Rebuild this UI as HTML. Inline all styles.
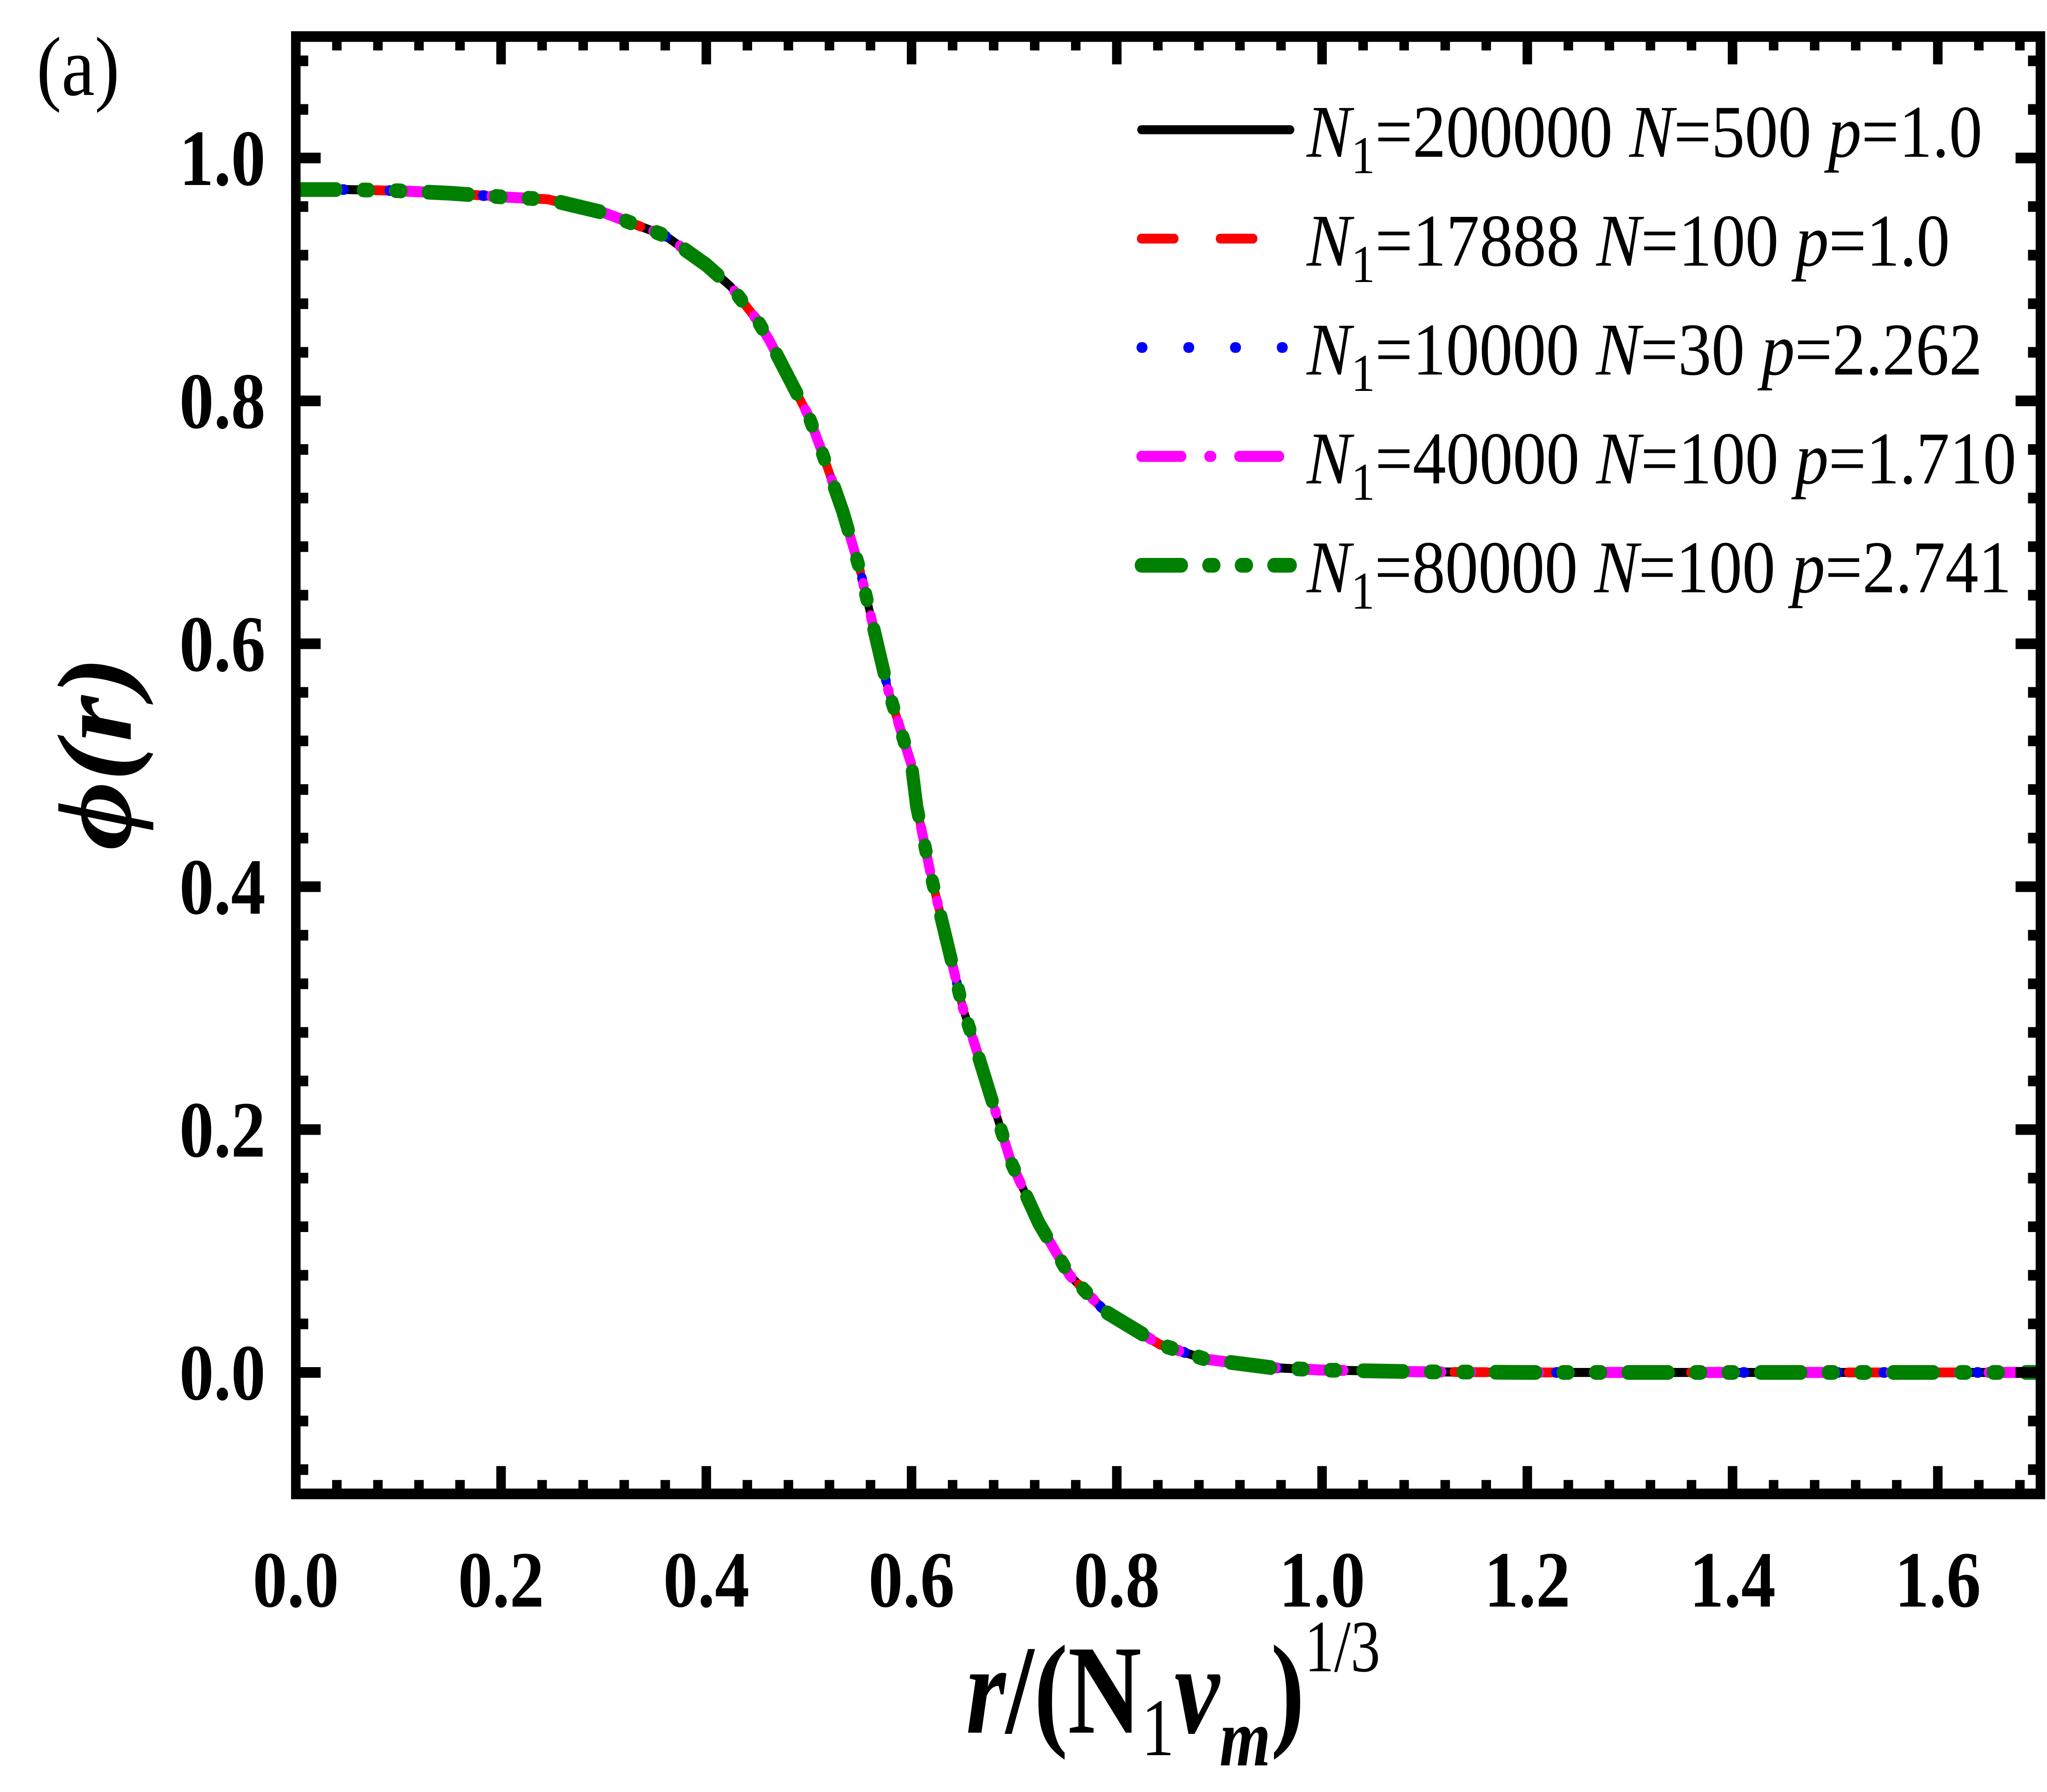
<!DOCTYPE html>
<html><head><meta charset="utf-8"><style>
html,body{margin:0;padding:0;background:#fff;width:100%;height:100%;overflow:hidden;}
svg{display:block;width:100vw;height:100vh;}
text{font-family:"Liberation Serif","Times New Roman",serif;}
</style></head>
<body>
<svg id="chart" xmlns="http://www.w3.org/2000/svg" viewBox="0 0 5605 4378" preserveAspectRatio="none">
<rect x="0" y="0" width="5605" height="4378" fill="#fff"/>
<g id="plot"></g>
<g id="axes"></g>
<text x="100" y="232" font-size="205">(a)</text>
<text transform="translate(358,1840) rotate(-90)" text-anchor="middle" font-size="290" font-weight="bold" font-style="italic">ϕ(r)</text>
<g transform="translate(2645,4233) scale(0.9,1)">
<text x="0" y="0" font-size="310" font-weight="bold"><tspan font-style="italic">r</tspan>/(N<tspan font-size="200" font-weight="normal" dy="55">1</tspan><tspan font-style="italic" dy="-55">v</tspan><tspan font-style="italic" font-size="200" dy="80">m</tspan><tspan dy="-80">)</tspan><tspan font-size="180" font-weight="normal" dy="-150">1/3</tspan></text>
</g>
<g id="legend"></g>
</svg>
<script>
// ---- data ----
const xValues = [0.0, 0.05, 0.1, 0.15, 0.2, 0.2456, 0.3, 0.36, 0.4, 0.424, 0.45, 0.462, 0.5, 0.511, 0.533, 0.55, 0.577, 0.6, 0.605, 0.619, 0.65, 0.662, 0.697, 0.724, 0.754, 0.789, 0.842, 0.886, 0.95, 1.0, 1.1, 1.2, 1.4, 1.7];
const ySeries1 = [0.974, 0.974, 0.973, 0.971, 0.968, 0.966, 0.955, 0.936, 0.912, 0.894, 0.866, 0.849, 0.787, 0.762, 0.709, 0.660, 0.5625, 0.500, 0.466, 0.409, 0.300, 0.269, 0.173, 0.123, 0.080, 0.050, 0.023, 0.011, 0.004, 0.002, 0.0005, 0.0, 0.0, 0.0];
const ySeries2 = [0.974, 0.974, 0.973, 0.971, 0.968, 0.966, 0.955, 0.936, 0.912, 0.894, 0.866, 0.849, 0.787, 0.762, 0.709, 0.660, 0.5625, 0.500, 0.466, 0.409, 0.300, 0.269, 0.173, 0.123, 0.080, 0.050, 0.023, 0.011, 0.004, 0.002, 0.0005, 0.0, 0.0, 0.0];
const ySeries3 = [0.974, 0.974, 0.973, 0.971, 0.968, 0.966, 0.955, 0.936, 0.912, 0.894, 0.866, 0.849, 0.787, 0.762, 0.709, 0.660, 0.5625, 0.500, 0.466, 0.409, 0.300, 0.269, 0.173, 0.123, 0.080, 0.050, 0.023, 0.011, 0.004, 0.002, 0.0005, 0.0, 0.0, 0.0];
const ySeries4 = [0.974, 0.974, 0.973, 0.971, 0.968, 0.966, 0.955, 0.936, 0.912, 0.894, 0.866, 0.849, 0.787, 0.762, 0.709, 0.660, 0.5625, 0.500, 0.466, 0.409, 0.300, 0.269, 0.173, 0.123, 0.080, 0.050, 0.023, 0.011, 0.004, 0.002, 0.0005, 0.0, 0.0, 0.0];
const ySeries5 = [0.974, 0.974, 0.973, 0.971, 0.968, 0.966, 0.955, 0.936, 0.912, 0.894, 0.866, 0.849, 0.787, 0.762, 0.709, 0.660, 0.5625, 0.500, 0.466, 0.409, 0.300, 0.269, 0.173, 0.123, 0.080, 0.050, 0.023, 0.011, 0.004, 0.002, 0.0005, 0.0, 0.0, 0.0];
const xTickLabels = ["0.0","0.2","0.4","0.6","0.8","1.0","1.2","1.4","1.6"];
const yTickLabels = ["0.0","0.2","0.4","0.6","0.8","1.0"];
const legendLabels = [
  ["200000","500","1.0"],
  ["17888","100","1.0"],
  ["10000","30","2.262"],
  ["40000","100","1.710"],
  ["80000","100","2.741"]
];
const legendWidths = [1850, 1761, 1850, 1943, 1930];

// ---- scales ----
const X0 = 810, XS = 2810, Y0 = 3353, YS = 2967;
const xMin = 0, xMax = 1.7, yMin = -0.1, yMax = 1.1;
function sx(v){ return X0 + v*XS; }
function sy(v){ return Y0 - v*YS; }
const NS = "http://www.w3.org/2000/svg";
function mk(tag, attrs, parent){
  const e = document.createElementNS(NS, tag);
  for (const k in attrs) e.setAttribute(k, attrs[k]);
  parent.appendChild(e);
  return e;
}
const plot = document.getElementById('plot');
const axes = document.getElementById('axes');
const legend = document.getElementById('legend');

const styles = [
  {color:"#000000", w:22, dash:"", cap:"round", name:"series-n1-200000"},
  {color:"#ff0000", w:24, dash:"90 126", cap:"round", name:"series-n1-17888"},
  {color:"#0000ff", w:26, dash:"4 124", cap:"round", name:"series-n1-10000"},
  {color:"#ff00ff", w:27, dash:"110 76 6 76", cap:"round", name:"series-n1-40000"},
  {color:"#008000", w:36, dash:"110 75 14 75 14 75", cap:"round", name:"series-n1-80000"}
];
const allY = [ySeries1, ySeries2, ySeries3, ySeries4, ySeries5];

const defs = mk('defs', {}, plot);
const cp = mk('clipPath', {id:'clip'}, defs);
mk('rect', {x:sx(xMin), y:sy(yMax), width:sx(xMax)-sx(xMin), height:sy(yMin)-sy(yMax)}, cp);

allY.forEach((ys, i) => {
  const st = styles[i];
  let d = "";
  xValues.forEach((x, j) => { d += (j ? "L" : "M") + sx(x).toFixed(1) + "," + sy(ys[j]).toFixed(1); });
  const p = mk('path', {d:d, fill:"none", stroke:st.color, "stroke-width":st.w, "stroke-linecap":st.cap, "stroke-linejoin":"round", "clip-path":"url(#clip)"}, plot);
  if (st.dash) p.setAttribute('stroke-dasharray', st.dash);
  
  
});

const fr = mk('rect', {x:sx(xMin), y:sy(yMax), width:sx(xMax)-sx(xMin), height:sy(yMin)-sy(yMax), fill:"none", stroke:"#000", "stroke-width":26}, axes);



for (let k = 0; k <= 42; k++) {
  const v = k*0.04;
  if (v > xMax + 1e-9) break;
  const major = (k % 5 === 0);
  const L = major ? 68 : 34;
  const x = sx(v);
  const t1 = mk('line', {x1:x, x2:x, y1:sy(yMin), y2:sy(yMin)-L, stroke:"#000", "stroke-width":26}, axes);
  
  
  const t2 = mk('line', {x1:x, x2:x, y1:sy(yMax), y2:sy(yMax)+L, stroke:"#000", "stroke-width":26}, axes);
  
  
}
xTickLabels.forEach(lbl => {
  const v = parseFloat(lbl);
  const t = mk('text', {x:sx(v), y:3925, "text-anchor":"middle", "font-size":195, "font-weight":"bold", textLength:236, lengthAdjust:"spacingAndGlyphs"}, axes);
  t.textContent = lbl;
  
  
});
for (let k = -2; k <= 27; k++) {
  const v = k*0.04;
  if (v < yMin - 1e-9 || v > yMax + 1e-9) continue;
  const major = (k % 5 === 0);
  const L = major ? 68 : 34;
  const y = sy(v);
  const t1 = mk('line', {x1:sx(xMin), x2:sx(xMin)+L, y1:y, y2:y, stroke:"#000", "stroke-width":26}, axes);
  
  
  const t2 = mk('line', {x1:sx(xMax), x2:sx(xMax)-L, y1:y, y2:y, stroke:"#000", "stroke-width":26}, axes);
  
  
}
yTickLabels.forEach(lbl => {
  const v = parseFloat(lbl);
  const t = mk('text', {x:727, y:sy(v)+66, "text-anchor":"end", "font-size":195, "font-weight":"bold", textLength:236, lengthAdjust:"spacingAndGlyphs"}, axes);
  t.textContent = lbl;
  
  
});

legendLabels.forEach((lab, i) => {
  const st = styles[i];
  const y = 317 + i*266;
  const g = mk('g', {}, legend);
  
  
  const ln = mk('line', {x1:3125, x2:3533, y1:y, y2:y, stroke:st.color, "stroke-width":st.w, "stroke-linecap":st.cap}, g);
  if (st.dash) ln.setAttribute('stroke-dasharray', st.dash);
  
  
  const t = mk('text', {x:3578, y:y+66, "font-size":182, textLength:legendWidths[i], lengthAdjust:"spacingAndGlyphs"}, g);
  
  
  t.innerHTML = '<tspan font-style="italic">N</tspan><tspan font-size="130" dy="40">1</tspan><tspan dy="-40">=' + lab[0] + ' </tspan><tspan font-style="italic">N</tspan><tspan>=' + lab[1] + ' </tspan><tspan font-style="italic">p</tspan><tspan>=' + lab[2] + '</tspan>';
});
</script>
</body></html>
